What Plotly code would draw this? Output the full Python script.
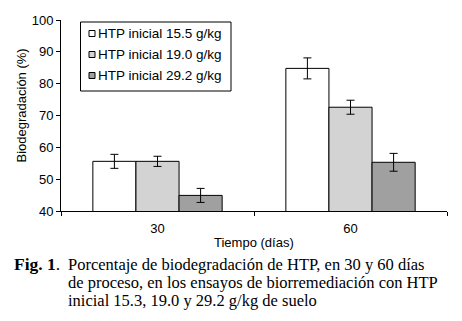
import plotly.graph_objects as go

categories = ["30", "60"]
series_names = ["HTP inicial 15.5 g/kg", "HTP inicial 19.0 g/kg", "HTP inicial 29.2 g/kg"]
values_155 = [55.6, 84.8]
values_190 = [55.6, 72.6]
values_292 = [44.9, 55.3]
errors_155 = [2.2, 3.3]
errors_190 = [1.6, 2.2]
errors_292 = [2.2, 2.8]
colors = ["#ffffff", "#d3d3d3", "#a0a0a0"]

PL, PR, PT, PB = 61, 447, 20, 211  # plot area in pixels
W, H = PR - PL, PB - PT


def px(x):
    return (x - PL) / W


def py(y):
    return (PB - y) / H


fig = go.Figure()
for i, (name, vals, errs) in enumerate(zip(series_names,
                                            [values_155, values_190, values_292],
                                            [errors_155, errors_190, errors_292])):
    fig.add_trace(go.Bar(
        x=categories, y=vals, name=name, showlegend=False,
        marker=dict(color=colors[i], line=dict(color="black", width=1)),
        error_y=dict(type="data", array=errs, visible=True, color="black",
                     thickness=1, width=4),
    ))

font_sans = "Liberation Sans, Arial, sans-serif"
font_serif = "Liberation Serif, Times New Roman, serif"

fig.update_layout(
    width=462, height=321,
    margin=dict(l=PL, r=462 - PR, t=PT, b=321 - PB),
    paper_bgcolor="white", plot_bgcolor="white",
    barmode="group", bargap=0.33, bargroupgap=0,
    font=dict(family=font_sans, size=13, color="black"),
    showlegend=False,
)
fig.update_xaxes(type="category", showline=True, linecolor="black", linewidth=1,
                 ticks="outside", tickson="boundaries", ticklen=4, tickcolor="black",
                 showgrid=False, tickfont=dict(size=13), ticklabelstandoff=5)
fig.update_yaxes(range=[40, 100], dtick=10, showline=True, linecolor="black", linewidth=1,
                 ticks="outside", ticklen=4, tickcolor="black", showgrid=False,
                 zeroline=False, tickfont=dict(size=13))

# Legend (box, swatches, labels)
fig.add_shape(type="rect", xref="paper", yref="paper", x0=px(80.5), x1=px(231), y0=py(91), y1=py(22),
              line=dict(color="black", width=1), fillcolor="white")
row_y = [33.5, 54.5, 75.5]
for i, name in enumerate(series_names):
    fig.add_shape(type="rect", xref="paper", yref="paper", x0=px(89), x1=px(95),
                  y0=py(row_y[i] + 3), y1=py(row_y[i] - 3),
                  line=dict(color="black", width=1), fillcolor=colors[i])
    fig.add_annotation(text=name, xref="paper", yref="paper", x=px(96), y=py(row_y[i]),
                       showarrow=False, xanchor="left", yanchor="middle",
                       font=dict(size=13.5, family=font_sans))

fig.add_annotation(text="Tiempo (días)", xref="paper", yref="paper", x=0.5, y=py(242),
                   showarrow=False, font=dict(size=13, family=font_sans), xanchor="center", yanchor="middle")
fig.add_annotation(text="Biodegradación (%)", xref="paper", yref="paper", x=px(21),
                   y=py(105.5), textangle=-90, showarrow=False,
                   font=dict(size=13, family=font_sans), xanchor="center", yanchor="middle")

caption_lines = ["Porcentaje de biodegradación de HTP, en 30 y 60 días",
                 "de proceso, en los ensayos de biorremediación con HTP",
                 "inicial 15.3, 19.0 y 29.2 g/kg de suelo"]
fig.add_annotation(text="<b>Fig. 1</b>.", xref="paper", yref="paper", x=px(12),
                   y=py(264), showarrow=False, xanchor="left", yanchor="middle",
                   font=dict(size=17.5, family=font_serif))
for k, line in enumerate(caption_lines):
    fig.add_annotation(text=line, xref="paper", yref="paper", x=px(66),
                       y=py(264 + 18 * k), showarrow=False, xanchor="left",
                       yanchor="middle", font=dict(size=16.5, family=font_serif))

fig.write_html("out.html", post_script="document.body.style.margin='0';",
               config={"displayModeBar": False})
